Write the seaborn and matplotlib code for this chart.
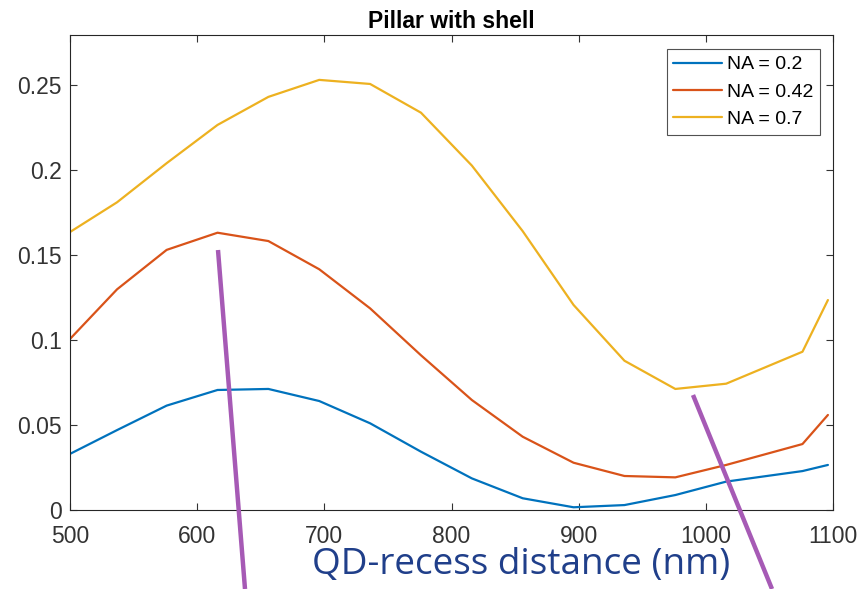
import numpy as np
import pandas as pd
import seaborn as sns
import matplotlib
matplotlib.use("Agg")
import matplotlib.pyplot as plt
from matplotlib.lines import Line2D

# QD-recess distance (nm)
recess_nm = [500, 537, 576, 616, 656, 696, 736, 776, 816, 856, 896, 936, 976, 1016, 1076, 1096]

# Collection efficiency for each numerical aperture
eff_na_020 = [0.0330, 0.0470, 0.0614, 0.0706, 0.0712, 0.0641, 0.0510, 0.0343, 0.0186, 0.0069,
              0.0016, 0.0029, 0.0088, 0.0167, 0.0229, 0.0265]
eff_na_042 = [0.1006, 0.1298, 0.1530, 0.1631, 0.1582, 0.1416, 0.1186, 0.0910, 0.0647, 0.0431,
              0.0278, 0.0200, 0.0192, 0.0265, 0.0388, 0.0559]
eff_na_070 = [0.1635, 0.1810, 0.2040, 0.2265, 0.2430, 0.2530, 0.2506, 0.2337, 0.2026, 0.1640,
              0.1206, 0.0878, 0.0712, 0.0743, 0.0931, 0.1235]

series_labels = ["NA = 0.2", "NA = 0.42", "NA = 0.7"]
x_ticks = [500, 600, 700, 800, 900, 1000, 1100]
y_ticks = [0, 0.05, 0.1, 0.15, 0.2, 0.25]
y_tick_labels = ["0", "0.05", "0.1", "0.15", "0.2", "0.25"]

df = pd.concat([
    pd.DataFrame({"recess": recess_nm, "eff": vals, "series": lab})
    for vals, lab in zip([eff_na_020, eff_na_042, eff_na_070], series_labels)
])

sns.set_theme(style="white")
plt.rcParams["font.family"] = ["Liberation Sans", "DejaVu Sans"]

W, H = 861, 589
fig = plt.figure(figsize=(W / 100, H / 100), dpi=100)
ax = fig.add_axes([70 / W, 1 - 510 / H, (833 - 70) / W, (510 - 35) / H])

palette = ["#0072BD", "#D95319", "#EDB120"]
sns.lineplot(data=df, x="recess", y="eff", hue="series", palette=palette,
             linewidth=1.6, ax=ax, sort=False, estimator=None)

ax.set_xlim(500, 1100)
ax.set_ylim(0, 0.2794)
ax.set_xticks(x_ticks)
ax.set_xticklabels([str(t) for t in x_ticks])
ax.set_yticks(y_ticks)
ax.set_yticklabels(y_tick_labels)
ax.tick_params(direction="in", length=5, width=0.8, colors="#333333",
               labelsize=16.5, top=True, right=True, bottom=True, left=True,
               labeltop=False, labelright=False)
ax.tick_params(axis="x", pad=11)
ax.tick_params(axis="y", pad=6)
for sp in ax.spines.values():
    sp.set_color("#262626")
    sp.set_linewidth(0.8)
ax.set_xlabel("")
ax.set_ylabel("")

ax.set_title("Pillar with shell", fontsize=16.5, fontweight="bold", pad=5, color="black")

leg = ax.legend(loc="upper right", bbox_to_anchor=(0.983, 0.9705), fontsize=14,
                handlelength=2.5, handletextpad=0.25, borderpad=0.35, labelspacing=0.5,
                frameon=True, fancybox=False, borderaxespad=0)
leg.get_frame().set_edgecolor("#262626")
leg.get_frame().set_linewidth(0.8)
for t in leg.get_texts():
    t.set_color("black")

# Axis caption drawn large below the tick labels
fig.text(521 / W, 1 - 565 / H, "QD-recess distance (nm)", ha="center", va="center",
         fontsize=26.6, color="#203f8a", family=["Open Sans", "DejaVu Sans"])

# Purple guide strokes
purple = "#a65ab5"
for (x0, y0), (x1, y1) in [((218, 250), (245, 589)), ((693, 395), (772, 589))]:
    fig.add_artist(Line2D([x0 / W, x1 / W], [1 - y0 / H, 1 - y1 / H],
                          transform=fig.transFigure, color=purple, linewidth=3.2,
                          solid_capstyle="butt"))

fig.savefig("out.png", dpi=100)
